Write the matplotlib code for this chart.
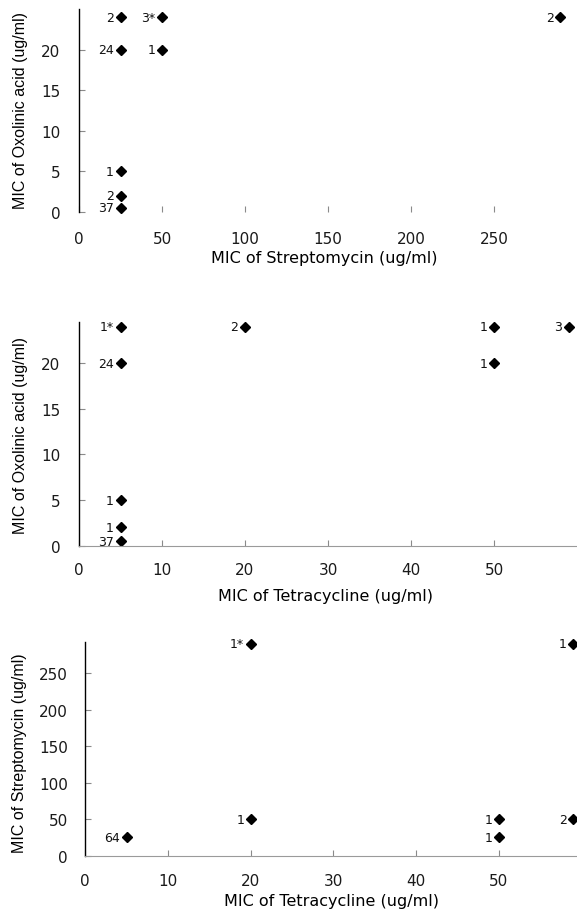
import matplotlib
matplotlib.use("Agg")
import matplotlib.pyplot as plt

plt.rcParams['font.family'] = ['DejaVu Sans']

# Panel 1: Streptomycin (x) vs Oxolinic acid (y)
p1_x = [25, 50, 25, 50, 25, 25, 25, 290]
p1_y = [24, 24, 20, 20, 5, 2, 0.5, 24]
p1_n = ["2", "3*", "24", "1", "1", "2", "37", "2"]

# Panel 2: Tetracycline (x) vs Oxolinic acid (y)
p2_x = [5, 20, 50, 59, 5, 50, 5, 5, 5]
p2_y = [24, 24, 24, 24, 20, 20, 5, 2, 0.5]
p2_n = ["1*", "2", "1", "3", "24", "1", "1", "1", "37"]

# Panel 3: Tetracycline (x) vs Streptomycin (y)
p3_x = [5, 20, 20, 50, 50, 59, 59]
p3_y = [25, 290, 50, 50, 25, 290, 50]
p3_n = ["64", "1*", "1", "1", "1", "1", "2"]

p1_xticks = [0, 50, 100, 150, 200, 250]
p1_yticks = [0, 5, 10, 15, 20]
p2_xticks = [0, 10, 20, 30, 40, 50]
p2_yticks = [0, 5, 10, 15, 20]
p3_xticks = [0, 10, 20, 30, 40, 50]
p3_yticks = [0, 50, 100, 150, 200, 250]

W, H = 577, 912
fig = plt.figure(figsize=(W / 100, H / 100), dpi=100)

XLABEL_FONT = dict(family='DejaVu Sans', size=11.5)
YLABEL_FONT = dict(family='Liberation Sans', size=11.5)


def add_axes_px(left, top, right, bottom):
    return fig.add_axes([left / W, 1 - bottom / H, (right - left) / W, (bottom - top) / H])


def place_label(ax, axis, px, py):
    inv = ax.transAxes.inverted()
    fx, fy = inv.transform(fig.transFigure.transform((px / W, 1 - py / H)))
    if axis == 'x':
        ax.xaxis.set_label_coords(fx, fy)
        ax.xaxis.label.set_va('center')
    else:
        ax.yaxis.set_label_coords(fx, fy)
        ax.yaxis.label.set_va('center')


def style(ax, xpad, ypad, show_bottom):
    for s in ['top', 'right']:
        ax.spines[s].set_visible(False)
    ax.spines['left'].set_color('black')
    ax.spines['left'].set_linewidth(1.0)
    if show_bottom:
        ax.spines['bottom'].set_color('#9a9a9a')
        ax.spines['bottom'].set_linewidth(0.8)
    else:
        ax.spines['bottom'].set_visible(False)
    ax.tick_params(axis='both', direction='in', length=4, width=0.8, color='#8a8a8a',
                   labelsize=11, labelcolor='#1a1a1a')
    ax.tick_params(axis='x', pad=xpad)
    ax.tick_params(axis='y', pad=ypad)


def plot_panel(ax, xs, ys, ns, fs=9):
    ax.plot(xs, ys, linestyle='none', marker='D', markersize=4.8, color='black', clip_on=False)
    for x, y, n in zip(xs, ys, ns):
        ax.annotate(n, (x, y), xytext=(-4.8, 0), textcoords='offset points',
                    ha='right', va='center', fontsize=fs, color='#111111')


# Panel 1
ax1 = add_axes_px(79, 10, 577, 213)
plot_panel(ax1, p1_x, p1_y, p1_n)
ax1.set_xlim(0, 300)
ax1.set_ylim(0, 25)
ax1.set_xticks(p1_xticks)
ax1.set_yticks(p1_yticks)
style(ax1, 14, 13.5, False)
ax1.set_xlabel("MIC of Streptomycin (ug/ml)", **XLABEL_FONT)
ax1.set_ylabel("MIC of Oxolinic acid (ug/ml)", **YLABEL_FONT)
place_label(ax1, 'x', 324, 258)
place_label(ax1, 'y', 20, 110)

# Panel 2
ax2 = add_axes_px(79, 323, 577, 546.7)
plot_panel(ax2, p2_x, p2_y, p2_n)
ax2.set_xlim(0, 60)
ax2.set_ylim(0, 24.5)
ax2.set_xticks(p2_xticks)
ax2.set_yticks(p2_yticks)
style(ax2, 11.7, 13.5, True)
ax2.set_xlabel("MIC of Tetracycline (ug/ml)", **XLABEL_FONT)
ax2.set_ylabel("MIC of Oxolinic acid (ug/ml)", **YLABEL_FONT)
place_label(ax2, 'x', 326, 596)
place_label(ax2, 'y', 20, 435)

# Panel 3
ax3 = add_axes_px(85.3, 642.7, 577, 856.7)
plot_panel(ax3, p3_x, p3_y, p3_n)
ax3.set_xlim(0, 59.45)
ax3.set_ylim(0, 293)
ax3.set_xticks(p3_xticks)
ax3.set_yticks(p3_yticks)
style(ax3, 12.5, 12.5, True)
ax3.set_xlabel("MIC of Tetracycline (ug/ml)", **XLABEL_FONT)
ax3.set_ylabel("MIC of Streptomycin (ug/ml)", **YLABEL_FONT)
place_label(ax3, 'x', 332, 902)
place_label(ax3, 'y', 20, 753)

fig.savefig("out.png", dpi=100, facecolor='white')
